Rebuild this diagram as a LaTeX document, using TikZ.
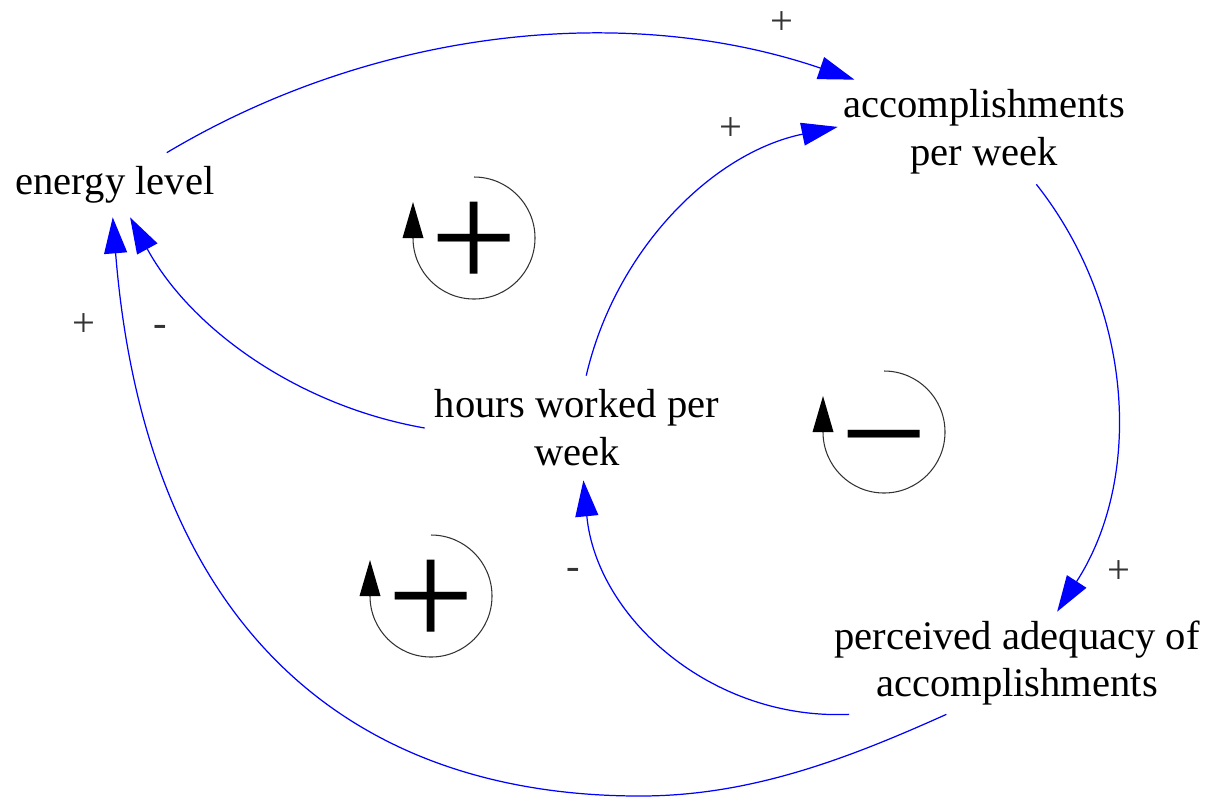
\documentclass[tikz,border=0pt]{standalone}
\usepackage{fontspec}
\setmainfont{Liberation Serif}
\usetikzlibrary{arrows.meta}

\begin{document}
\begin{tikzpicture}[
    x=0.02cm, y=-0.02cm,
    var/.style={font=\fontsize{23.1}{27.3}\selectfont, align=center, inner sep=0pt},
    sign/.style={font=\fontsize{23.1}{27.3}\selectfont, text=black!80, inner sep=0pt},
    link/.style={-{Triangle[length=0.72cm, width=0.46cm]}, blue, line width=0.7pt},
    loopline/.style={black!80, line width=0.6pt},
    polarity/.style={font=\fontsize{88}{88}\selectfont, inner sep=0pt}
]
\useasboundingbox (0,0) rectangle (1209,799);

% Variables
\node[var, minimum width=4.2cm, minimum height=1.28cm] (energy) at (115,185) {energy level};
\node[var, minimum width=5.84cm, minimum height=2.08cm] (accomp) at (984,132) {accomplishments\\per week};
\node[var, minimum width=6.08cm, minimum height=2.08cm] (hours) at (577,428) {hours worked per\\week};
\node[var, minimum width=7.4cm, minimum height=2.04cm] (adequacy) at (1017,663) {perceived adequacy of\\accomplishments};

% Causal links
\draw[link] (energy.32) .. controls +(208,-124) and +(-229,-78) .. (accomp.158);
\draw[link] (hours.80) .. controls +(29,-125) and +(-126,26) .. (accomp.178);
\draw[link] (hours.west) .. controls +(-126,-22) and +(61,112) .. (energy.-65);
\draw[link] (accomp.-45) .. controls +(98,124) and +(86,-133) .. (adequacy.52);
\draw[link] (adequacy.197) .. controls +(-138,6) and +(13,137) .. (hours.-83);
\draw[link] (adequacy.216) .. controls +(-100,45) and +(110,0) .. (640,796)
    .. controls +(-300,0) and +(32,399) .. (energy.-94);

% Link polarities
\node[sign] (pol1) at (782,23) {+};
\node[sign] (pol2) at (731,129) {+};
\node[sign] (pol3) at (84,325) {+};
\node[sign] (pol4) at (160,331) {-};
\node[sign] (pol5) at (1119,572) {+};
\node[sign] (pol6) at (573,574) {-};

% Loop markers (the symbol is nudged down so the glyph sits on the circle centre)
\foreach \cx/\cy/\pol/\dy [count=\i] in {474/238/+/8, 884/432/−/26, 431/596/+/8} {
    \draw[loopline] (\cx,\cy-61) arc[start angle=-90, end angle=180, radius=61];
    \fill (\cx-71.5,\cy) -- (\cx-50.5,\cy) -- (\cx-61,\cy-36) -- cycle;
    \node[polarity] (loop\i) at (\cx,\cy+\dy) {\pol};
}

\end{tikzpicture}
\end{document}
